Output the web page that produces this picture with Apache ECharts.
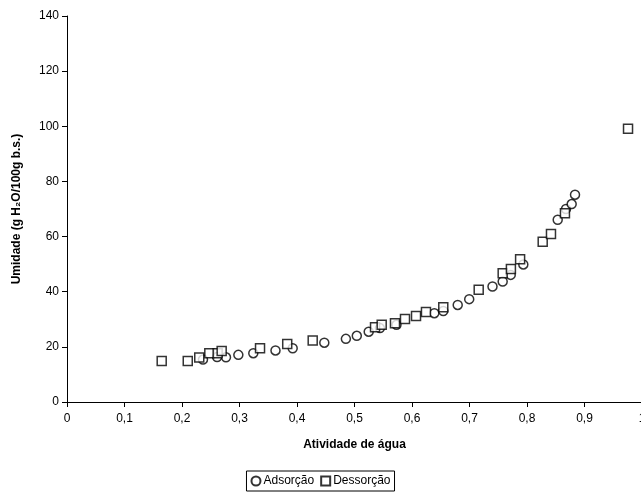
<!DOCTYPE html>
<html>
<head>
<meta charset="utf-8">
<script src="https://cdn.jsdelivr.net/npm/echarts@6/dist/echarts.min.js"></script>
<style>
  html, body { margin: 0; padding: 0; background: #fff; }
  #chart { width: 641px; height: 495px; }
</style>
</head>
<body>
<div id="chart"></div>
<script>
// Adsorção (círculos)
const adsX = [0.2365, 0.261, 0.2765, 0.298, 0.324, 0.3626, 0.3925, 0.4475, 0.485, 0.504, 0.5247, 0.5443, 0.573,
  0.6388, 0.6544, 0.6795, 0.6995, 0.740, 0.7577, 0.7717, 0.7936, 0.8534, 0.8678, 0.8777, 0.8835]
const adsY = [15.4, 16.3, 16.2, 17.1, 17.7, 18.7, 19.5, 21.5, 22.9, 24.0, 25.5, 26.8, 28.0,
  32.2, 33.0, 35.2, 37.3, 41.9, 43.7, 46.1, 49.9, 66.1, 70.0, 71.8, 75.2]

// Dessorção (quadrados)
const desX = [0.1647, 0.21, 0.230, 0.2475, 0.262, 0.269, 0.3357, 0.383, 0.4273, 0.5357, 0.5473, 0.5704, 0.5878,
  0.607, 0.6243, 0.6544, 0.716, 0.7577, 0.772, 0.788, 0.8273, 0.8417, 0.866, 0.9757]
const desY = [14.9, 14.9, 16.1, 17.7, 17.7, 18.5, 19.5, 21.0, 22.3, 27.1, 28.0, 28.6, 30.1,
  31.2, 32.6, 34.4, 40.7, 46.7, 48.2, 51.8, 58.1, 60.9, 68.5, 99.1]

const toPairs = (xs, ys) => xs.map((x, i) => [x, ys[i]])

const chart = echarts.init(document.getElementById('chart'))

const font = 'Liberation Sans, Arial, sans-serif'
const markStyle = { color: '#fff', borderColor: '#000', borderWidth: 1.5 }

chart.setOption({
  animation: false,
  textStyle: { fontFamily: font },
  grid: { left: 67, top: 16, width: 575, height: 386, outerBoundsMode: 'none', containLabel: false },
  xAxis: {
    type: 'value',
    min: 0,
    max: 1,
    interval: 0.1,
    name: 'Atividade de água',
    nameLocation: 'middle',
    nameGap: 37,
    nameTextStyle: { fontWeight: 'bold', fontSize: 12, color: '#000', fontFamily: font },
    axisLine: { lineStyle: { color: '#000' } },
    axisTick: { inside: false, length: 5, lineStyle: { color: '#000' } },
    axisLabel: {
      color: '#000', fontSize: 12, margin: 11, fontFamily: font,
      hideOverlap: false,
      formatter: v => String(Math.round(v * 10) / 10).replace('.', ',')
    },
    splitLine: { show: false }
  },
  yAxis: {
    type: 'value',
    min: 0,
    max: 140,
    interval: 20,
    name: 'Umidade (g H₂O/100g b.s.)',
    nameLocation: 'middle',
    nameGap: 44,
    nameTextStyle: { fontWeight: 'bold', fontSize: 12, color: '#000', fontFamily: font },
    axisLine: { show: true, lineStyle: { color: '#000' } },
    axisTick: { show: true, inside: false, length: 5, lineStyle: { color: '#000' } },
    axisLabel: { color: '#000', fontSize: 12, margin: 8, fontFamily: font },
    splitLine: { show: false }
  },
  legend: {
    left: 'center',
    bottom: 4,
    orient: 'horizontal',
    borderColor: '#000',
    borderWidth: 1,
    borderRadius: 0,
    padding: [4, 4, 4, 4],
    itemGap: 6,
    itemWidth: 9,
    itemHeight: 9,
    textStyle: { fontSize: 12, color: '#000', fontFamily: font, padding: [0, 0, 0, -2] },
    data: [
      { name: 'Adsorção', icon: 'circle' },
      { name: 'Dessorção', icon: 'rect' }
    ]
  },
  series: [
    {
      name: 'Adsorção',
      type: 'scatter',
      symbol: 'circle',
      symbolSize: 9,
      itemStyle: markStyle,
      data: toPairs(adsX, adsY)
    },
    {
      name: 'Dessorção',
      type: 'scatter',
      symbol: 'rect',
      symbolSize: 9,
      itemStyle: markStyle,
      data: toPairs(desX, desY)
    }
  ]
})
</script>
</body>
</html>
